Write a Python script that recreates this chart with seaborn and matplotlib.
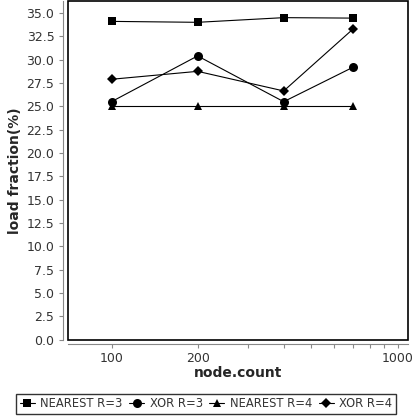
import pandas as pd
import numpy as np
import matplotlib.pyplot as plt
import seaborn as sns
from matplotlib.patches import Rectangle
from matplotlib.ticker import FixedLocator, NullFormatter

# values
node_count = [100, 200, 400, 700]
nearest_r3 = [34.1, 34.0, 34.5, 34.45]
xor_r3 = [25.5, 30.4, 25.5, 29.2]
nearest_r4 = [25.0, 25.0, 25.0, 25.0]
xor_r4 = [27.9, 28.75, 26.65, 33.3]
series_names = ["NEAREST R=3", "XOR R=3", "NEAREST R=4", "XOR R=4"]

frames = []
for name, vals in zip(series_names, [nearest_r3, xor_r3, nearest_r4, xor_r4]):
    frames.append(pd.DataFrame({"node.count": node_count, "load": vals, "series": name}))
df = pd.concat(frames, ignore_index=True)

sns.set_style("white")
plt.rcParams['font.family'] = ['DejaVu Sans']

fig = plt.figure(figsize=(4.12, 4.19), dpi=100)
ax = fig.add_axes([0.164, 0.189, 0.826, 0.809])

markers = {"NEAREST R=3": "s", "XOR R=3": "o", "NEAREST R=4": "^", "XOR R=4": "D"}
marker_sizes = {"s": 5.8, "o": 6.5, "^": 6.0, "D": 4.6}
palette = {n: "black" for n in series_names}

sns.lineplot(data=df, x="node.count", y="load", hue="series", style="series",
             markers=markers, dashes=False, palette=palette, linewidth=0.8, ax=ax)

handles, labels = ax.get_legend_handles_labels()
ax.get_legend().remove()

# marker sizes per shape, on plot and legend
for line in list(ax.get_lines()) + list(handles):
    m = line.get_marker()
    if m in marker_sizes:
        line.set_markersize(marker_sizes[m])
        line.set_markeredgewidth(0)

leg = fig.legend(handles, labels, loc="center", bbox_to_anchor=(0.5, 0.036), ncol=4,
                 frameon=True, fancybox=False, edgecolor="black", fontsize=8.3,
                 handlelength=1.3, handletextpad=0.5, columnspacing=0.55,
                 borderpad=0.3, borderaxespad=0, labelcolor="#333333")
leg.get_frame().set_linewidth(1.0)

ax.set_xscale("log")
ax.set_xlim(70.2, 1087)
ax.set_ylim(0, 36.3)
ax.xaxis.set_major_locator(FixedLocator([100, 200, 1000]))
ax.xaxis.set_minor_locator(FixedLocator([300, 400, 500, 600, 700, 800, 900]))
ax.xaxis.set_minor_formatter(NullFormatter())
ax.set_xticks([100, 200, 1000])
ax.set_xticklabels(["100", "200", "1000"])
ax.set_yticks(np.arange(0, 35.1, 2.5))
ax.set_yticklabels([f"{v:.1f}" for v in np.arange(0, 35.1, 2.5)])

# offset gray axes, black plot frame
for side in ["left", "bottom"]:
    ax.spines[side].set_position(("outward", 3))
    ax.spines[side].set_color("#888888")
    ax.spines[side].set_linewidth(0.8)
for side in ["top", "right"]:
    ax.spines[side].set_visible(False)
ax.add_patch(Rectangle((0, 0), 1, 1, transform=ax.transAxes, fill=False,
                       edgecolor="black", linewidth=1.2, clip_on=False, zorder=5))

ax.tick_params(axis="both", which="both", direction="out", color="#888888",
               labelsize=9, labelcolor="#333333", length=3, width=0.8,
               bottom=True, left=True)
ax.tick_params(axis="x", which="both", pad=2.5)

ax.set_xlabel("node.count", fontsize=10, fontweight="bold", labelpad=1)
ax.set_ylabel("load fraction(%)", fontsize=10, fontweight="bold", labelpad=3)

fig.savefig("out.png", dpi=100)
